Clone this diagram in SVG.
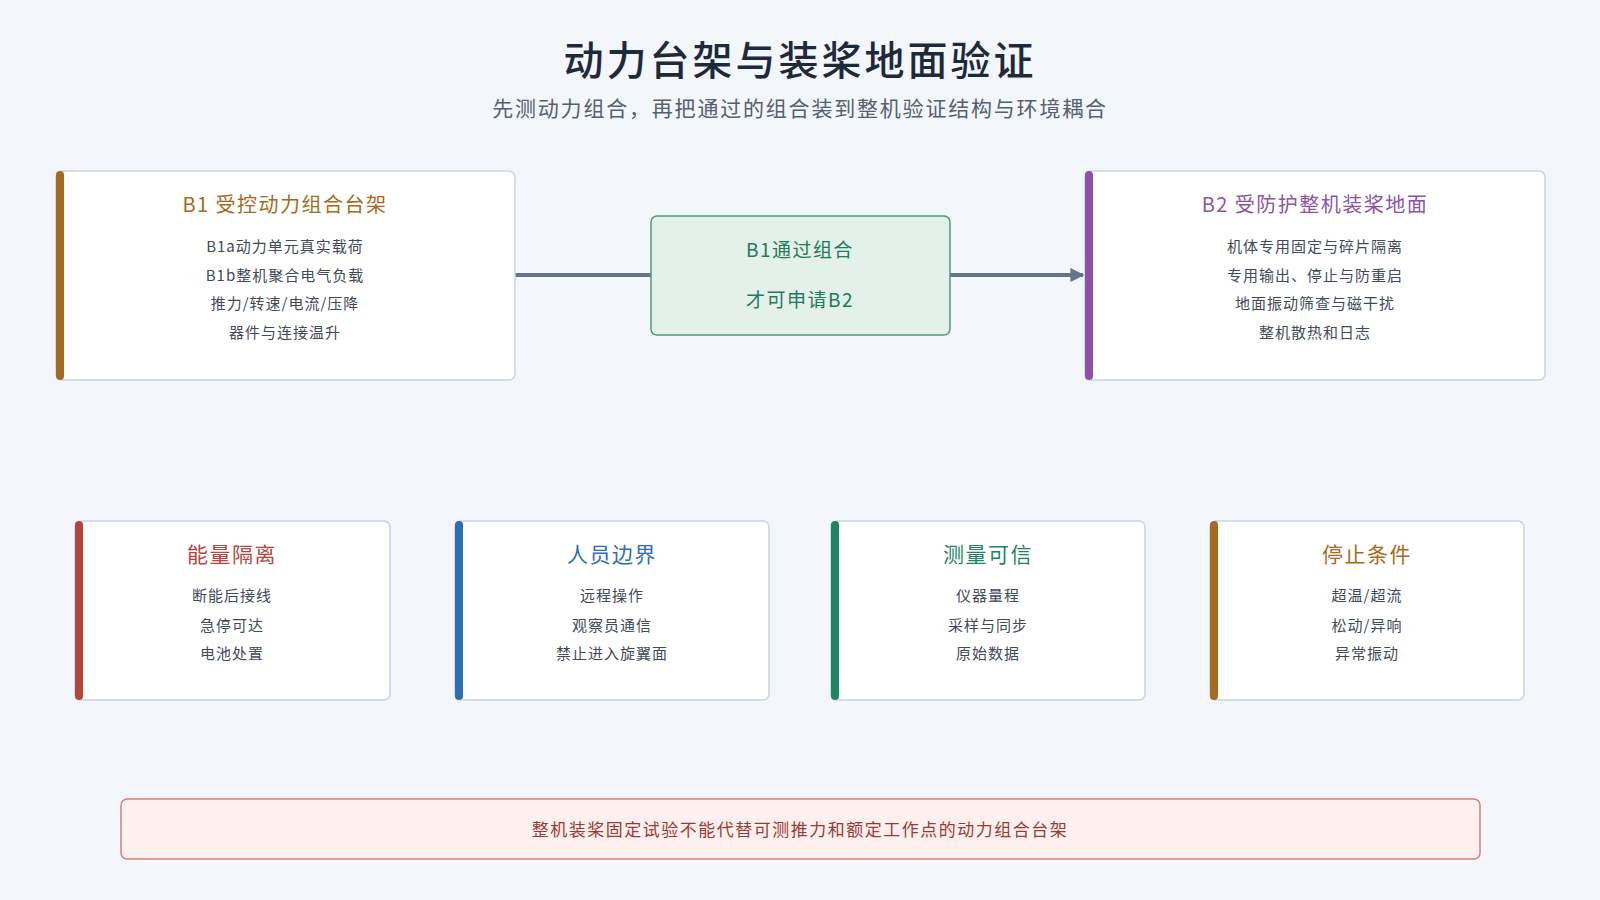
<svg xmlns="http://www.w3.org/2000/svg" width="1600" height="900" viewBox="0 0 1600 900">
<defs>
<marker id="arr" viewBox="0 0 10 10" refX="9" refY="5" markerWidth="3.5" markerHeight="3.5" orient="auto"><path d="M0,0L10,5L0,10z" fill="#64748b"/></marker>
</defs>
<style>
text{font-family:"Noto Sans CJK SC","Noto Sans",sans-serif;text-anchor:middle}
.box{fill:#fff;stroke:#c9d3e2;stroke-width:1.5}
.item{font-size:15px;fill:#3f4a5a;letter-spacing:1px}
.h{font-size:20px;letter-spacing:1.5px}
.bt{font-size:21px;letter-spacing:1.5px}
</style>
<rect width="1600" height="900" fill="#f3f6fa"/>
<text x="800" y="75" font-size="40" font-weight="500" letter-spacing="3" fill="#1e293b">动力台架与装桨地面验证</text>
<text x="800" y="116" font-size="21" letter-spacing="1.8" fill="#556070">先测动力组合，再把通过的组合装到整机验证结构与环境耦合</text>
<g id="connectors" stroke="#64748b" stroke-width="4" fill="none">
<line x1="515" y1="275" x2="651" y2="275"/>
<line x1="950" y1="275" x2="1083" y2="275" marker-end="url(#arr)"/>
</g>
<g id="b1">
<rect class="box" x="56" y="171" width="459" height="209" rx="6"/>
<rect x="56" y="171" width="8" height="209" rx="4" fill="#a56a22"/>
<text class="h" x="285" y="212" fill="#a56a22">B1  受控动力组合台架</text>
<text class="item" x="285" y="252">B1a动力单元真实载荷</text>
<text class="item" x="285" y="281">B1b整机聚合电气负载</text>
<text class="item" x="285" y="309">推力/转速/电流/压降</text>
<text class="item" x="285" y="338">器件与连接温升</text>
</g>
<g id="gate">
<rect x="651" y="216" width="299" height="119" rx="6" fill="#e3f1ea" stroke="#4f9a7a" stroke-width="1.5"/>
<text x="800" y="257" font-size="19" letter-spacing="1.5" fill="#1e7a58">B1通过组合</text>
<text x="800" y="307" font-size="19" letter-spacing="1.5" fill="#1e7a58">才可申请B2</text>
</g>
<g id="b2">
<rect class="box" x="1085" y="171" width="460" height="209" rx="6"/>
<rect x="1085" y="171" width="8" height="209" rx="4" fill="#8e52a8"/>
<text class="h" x="1315" y="212" fill="#8e52a8">B2  受防护整机装桨地面</text>
<text class="item" x="1315" y="252">机体专用固定与碎片隔离</text>
<text class="item" x="1315" y="281">专用输出、停止与防重启</text>
<text class="item" x="1315" y="309">地面振动筛查与磁干扰</text>
<text class="item" x="1315" y="338">整机散热和日志</text>
</g>
<g id="energy">
<rect class="box" x="75" y="521" width="315" height="179" rx="6"/>
<rect x="75" y="521" width="8" height="179" rx="4" fill="#b5453d"/>
<text class="bt" x="232" y="562" fill="#b5453d">能量隔离</text>
<text class="item" x="232" y="601">断能后接线</text>
<text class="item" x="232" y="631">急停可达</text>
<text class="item" x="232" y="659">电池处置</text>
</g>
<g id="people">
<rect class="box" x="455" y="521" width="314" height="179" rx="6"/>
<rect x="455" y="521" width="8" height="179" rx="4" fill="#2f6db5"/>
<text class="bt" x="612" y="562" fill="#2f6db5">人员边界</text>
<text class="item" x="612" y="601">远程操作</text>
<text class="item" x="612" y="631">观察员通信</text>
<text class="item" x="612" y="659">禁止进入旋翼面</text>
</g>
<g id="measure">
<rect class="box" x="831" y="521" width="314" height="179" rx="6"/>
<rect x="831" y="521" width="8" height="179" rx="4" fill="#1f8560"/>
<text class="bt" x="988" y="562" fill="#1f8560">测量可信</text>
<text class="item" x="988" y="601">仪器量程</text>
<text class="item" x="988" y="631">采样与同步</text>
<text class="item" x="988" y="659">原始数据</text>
</g>
<g id="stop">
<rect class="box" x="1210" y="521" width="314" height="179" rx="6"/>
<rect x="1210" y="521" width="8" height="179" rx="4" fill="#a86a1e"/>
<text class="bt" x="1367" y="562" fill="#a86a1e">停止条件</text>
<text class="item" x="1367" y="601">超温/超流</text>
<text class="item" x="1367" y="631">松动/异响</text>
<text class="item" x="1367" y="659">异常振动</text>
</g>
<g id="footer">
<rect x="121" y="799" width="1359" height="60" rx="6" fill="#fdf0ef" stroke="#d4817b" stroke-width="1.5"/>
<text x="800" y="836" font-size="17" letter-spacing="1.5" fill="#9b3a33">整机装桨固定试验不能代替可测推力和额定工作点的动力组合台架</text>
</g>
</svg>
